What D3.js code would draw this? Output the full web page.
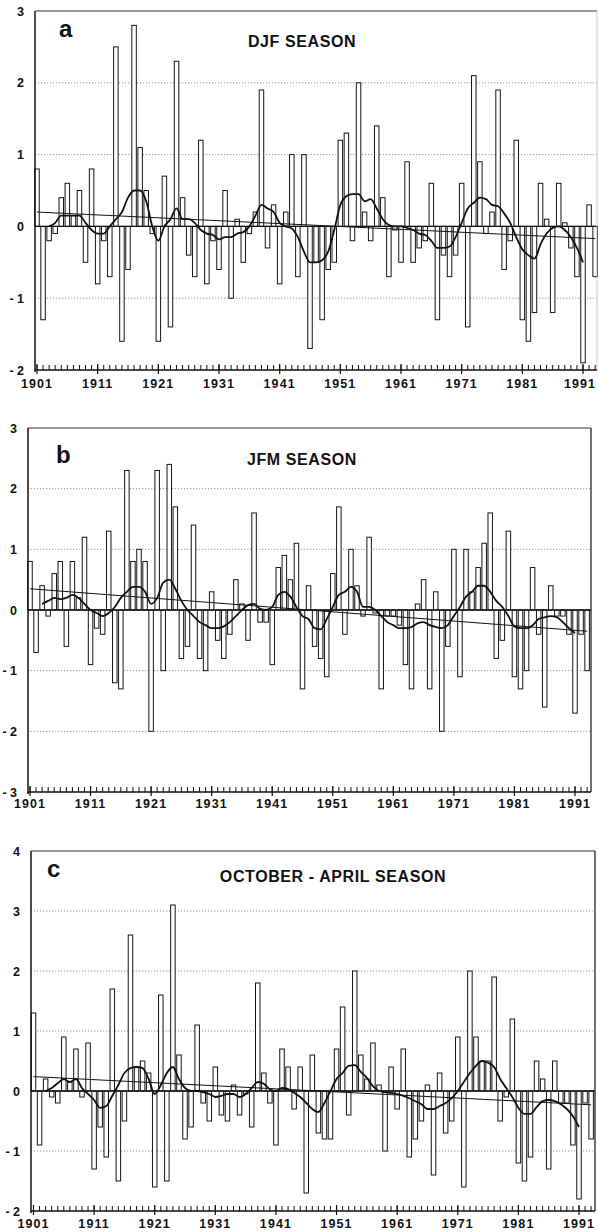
<!DOCTYPE html>
<html><head><meta charset="utf-8">
<script src="https://cdn.jsdelivr.net/npm/d3@7"></script>
<style>
body{margin:0;background:#fff}
svg{display:block}
text{font-family:"Liberation Sans",Arial,Helvetica,sans-serif;fill:#111}
</style>
</head><body>
<svg id="chart" width="598" height="1232"></svg>
<script>
// ---------- DATA ----------
const years = [1901,1902,1903,1904,1905,1906,1907,1908,1909,1910,1911,1912,1913,1914,1915,1916,1917,1918,1919,1920,
1921,1922,1923,1924,1925,1926,1927,1928,1929,1930,1931,1932,1933,1934,1935,1936,1937,1938,1939,1940,
1941,1942,1943,1944,1945,1946,1947,1948,1949,1950,1951,1952,1953,1954,1955,1956,1957,1958,1959,1960,
1961,1962,1963,1964,1965,1966,1967,1968,1969,1970,1971,1972,1973,1974,1975,1976,1977,1978,1979,1980,
1981,1982,1983,1984,1985,1986,1987,1988,1989,1990,1991,1992,1993];

const djfValues = [0.8,-1.3,-0.2,-0.1,0.4,0.6,0.15,0.5,-0.5,0.8,-0.8,-0.2,-0.7,2.5,-1.6,-0.6,2.8,1.1,0.5,-0.1,
-1.6,0.7,-1.4,2.3,0.4,-0.4,-0.7,1.2,-0.8,-0.2,-0.6,0.5,-1.0,0.1,-0.5,-0.1,0.2,1.9,-0.3,0.3,
-0.8,0.2,1.0,-0.7,1.0,-1.7,-0.5,-1.3,-0.6,-0.5,1.2,1.3,-0.2,2.0,0.2,-0.2,1.4,0.4,-0.7,-0.05,
-0.5,0.9,-0.5,-0.3,-0.2,0.6,-1.3,-0.4,-0.7,-0.4,0.6,-1.4,2.1,0.9,-0.1,0.2,1.9,-0.6,-0.2,1.2,
-1.3,-1.6,-1.2,0.6,0.1,-1.2,0.6,0.05,-0.3,-0.7,-1.9,0.3,-0.7];

const jfmValues = [0.8,-0.7,0.4,-0.1,0.6,0.8,-0.6,0.8,0.2,1.2,-0.9,-0.3,-0.4,1.3,-1.2,-1.3,2.3,0.8,1.0,0.8,
-2.0,2.3,-1.0,2.4,1.7,-0.8,-0.6,1.4,-0.8,-1.0,0.3,-0.5,-0.8,-0.4,0.5,0.1,-0.5,1.6,-0.2,-0.2,
-0.9,0.7,0.9,0.5,1.1,-1.3,0.4,-0.6,-0.8,-1.1,0.6,1.7,-0.4,1.0,0.4,-0.1,1.2,-0.05,-1.3,-0.1,
-0.1,-0.25,-0.9,-1.3,0.1,0.5,-1.3,0.3,-2.0,-0.6,1.0,-1.1,1.0,0.3,0.7,1.1,1.6,-0.8,-0.5,1.3,
-1.1,-1.3,-1.0,0.7,-0.4,-1.6,0.4,-0.1,-0.1,-0.4,-1.7,-0.4,-1.0];

const octAprValues = [1.3,-0.9,0.2,-0.1,-0.2,0.9,0.15,0.7,-0.1,0.8,-1.3,-0.6,-1.1,1.7,-1.5,-0.5,2.6,0.4,0.5,0.3,
-1.6,1.6,-1.5,3.1,0.6,-0.8,-0.6,1.1,-0.2,-0.5,0.4,-0.4,-0.5,0.1,-0.4,-0.05,-0.6,1.8,0.3,-0.2,
-0.9,0.7,0.4,-0.3,0.4,-1.7,0.6,-0.7,-0.8,-0.8,0.7,1.4,-0.4,2.0,0.6,0.2,0.8,0.1,-1.0,0.4,
-0.3,0.7,-1.1,-0.8,-0.5,0.1,-1.4,0.3,-0.7,-0.5,0.9,-1.6,2.0,0.9,0.5,0.5,1.9,-0.5,-0.1,1.2,
-1.2,-1.5,-1.1,0.5,0.2,-1.3,0.5,-0.2,-0.2,-0.9,-1.8,-0.2,-0.8];

const smoothYears = [1903,1904,1905,1906,1907,1908,1909,1910,1911,1912,1913,1914,1915,1916,1917,1918,1919,1920,
1921,1922,1923,1924,1925,1926,1927,1928,1929,1930,1931,1932,1933,1934,1935,1936,1937,1938,1939,1940,
1941,1942,1943,1944,1945,1946,1947,1948,1949,1950,1951,1952,1953,1954,1955,1956,1957,1958,1959,1960,
1961,1962,1963,1964,1965,1966,1967,1968,1969,1970,1971,1972,1973,1974,1975,1976,1977,1978,1979,1980,
1981,1982,1983,1984,1985,1986,1987,1988,1989,1990,1991];

const djfSmooth = [0.0,0.05,0.15,0.15,0.15,0.15,0.05,-0.05,-0.1,-0.1,0.0,0.1,0.2,0.4,0.5,0.5,0.35,0.0,
-0.2,0.0,0.1,0.25,0.1,0.1,0.05,-0.05,-0.1,-0.12,-0.18,-0.15,-0.15,-0.1,-0.08,0.0,0.15,0.3,0.25,0.2,
0.05,0.0,-0.03,-0.15,-0.35,-0.5,-0.5,-0.47,-0.35,-0.05,0.3,0.42,0.45,0.45,0.35,0.38,0.25,0.1,0.02,0.0,
0.0,-0.02,-0.05,-0.1,-0.12,-0.2,-0.3,-0.3,-0.28,-0.15,0.05,0.25,0.33,0.4,0.38,0.3,0.28,0.18,0.05,-0.15,
-0.32,-0.4,-0.45,-0.25,-0.1,-0.02,0.0,-0.05,-0.15,-0.3,-0.5];

const jfmSmooth = [0.1,0.15,0.2,0.18,0.2,0.25,0.2,0.1,0.0,-0.05,-0.1,-0.05,0.05,0.2,0.3,0.38,0.38,0.3,
0.1,0.2,0.45,0.5,0.35,0.15,0.0,-0.1,-0.2,-0.25,-0.3,-0.3,-0.27,-0.2,-0.1,0.0,0.08,0.1,0.02,0.0,
0.05,0.25,0.3,0.22,0.05,-0.1,-0.15,-0.3,-0.32,-0.15,0.05,0.25,0.3,0.38,0.3,0.05,0.05,0.0,-0.1,-0.2,
-0.25,-0.3,-0.3,-0.28,-0.22,-0.2,-0.25,-0.28,-0.3,-0.25,-0.1,0.05,0.22,0.3,0.4,0.4,0.3,0.15,0.05,-0.1,
-0.27,-0.3,-0.3,-0.25,-0.15,-0.12,-0.1,-0.12,-0.2,-0.3,-0.38];

const octAprSmooth = [0.0,0.05,0.13,0.2,0.15,0.2,0.05,-0.05,-0.15,-0.28,-0.25,-0.08,0.1,0.3,0.38,0.4,0.38,0.2,
-0.05,0.1,0.3,0.4,0.2,0.05,0.0,0.0,-0.02,-0.05,-0.1,-0.08,-0.05,-0.05,-0.1,-0.05,0.05,0.15,0.12,0.03,
0.0,0.05,0.03,-0.03,-0.1,-0.2,-0.3,-0.35,-0.2,0.0,0.2,0.3,0.42,0.43,0.32,0.22,0.08,0.0,-0.02,-0.03,
-0.05,-0.08,-0.12,-0.17,-0.22,-0.3,-0.3,-0.25,-0.2,-0.12,0.0,0.15,0.3,0.42,0.5,0.47,0.4,0.2,0.05,-0.1,
-0.28,-0.38,-0.38,-0.27,-0.17,-0.15,-0.17,-0.22,-0.3,-0.42,-0.6];

const trendYears = [1901, 1993];
const djfTrend = [0.2, -0.17];
const jfmTrend = [0.35, -0.35];
const octAprTrend = [0.24, -0.23];

const decadeLabels = [1901,1911,1921,1931,1941,1951,1961,1971,1981,1991];
const djfYTicks = [-2,-1,0,1,2,3];
const jfmYTicks = [-3,-2,-1,0,1,2,3];
const octAprYTicks = [-2,-1,0,1,2,3,4];
const panelLetters = ["a","b","c"];
const panelTitles = ["DJF SEASON","JFM SEASON","OCTOBER - APRIL SEASON"];

// ---------- LAYOUT ----------
const panels = [
  {letter:panelLetters[0], title:panelTitles[0], values:djfValues, smooth:djfSmooth, trend:djfTrend, yTicks:djfYTicks,
   l:35, r:597, t:11, b:370, x0:37, x1:583, titleX:302, titleY:47, letterX:59, letterY:37, labelY:388, rightBorder:false},
  {letter:panelLetters[1], title:panelTitles[1], values:jfmValues, smooth:jfmSmooth, trend:jfmTrend, yTicks:jfmYTicks,
   l:28, r:591, t:428, b:792, x0:30, x1:575, titleX:302, titleY:465, letterX:56, letterY:463, labelY:808, rightBorder:true},
  {letter:panelLetters[2], title:panelTitles[2], values:octAprValues, smooth:octAprSmooth, trend:octAprTrend, yTicks:octAprYTicks,
   l:31, r:595, t:851, b:1211, x0:33.5, x1:579, titleX:333, titleY:882, letterX:47, letterY:877, labelY:1228, rightBorder:true}
];

const svg = d3.select("#chart");
const W = 598;

panels.forEach(p => {
  const g = svg.append("g");
  const x = d3.scaleLinear().domain([1901, 1991]).range([p.x0, p.x1]);
  const y = d3.scaleLinear().domain([p.yTicks[0], p.yTicks[p.yTicks.length-1]]).range([p.b, p.t]);
  const bw = 4.5;

  // dotted grid lines
  g.selectAll(".grid").data(p.yTicks.filter(v => v !== 0 && v !== p.yTicks[0] && v !== p.yTicks[p.yTicks.length-1]))
    .enter().append("line")
    .attr("x1", p.l).attr("x2", p.r)
    .attr("y1", d => y(d)).attr("y2", d => y(d))
    .attr("stroke", "#777").attr("stroke-width", 0.8).attr("stroke-dasharray", "1.2,1.8");

  // bars
  g.selectAll(".bar").data(years.map((yr,i) => ({yr, v:p.values[i]})))
    .enter().append("rect")
    .attr("x", d => x(d.yr) - bw/2)
    .attr("y", d => y(Math.max(0, d.v)))
    .attr("width", bw)
    .attr("height", d => Math.abs(y(d.v) - y(0)))
    .attr("fill", "#fff").attr("stroke", "#151515").attr("stroke-width", 1);

  // zero line
  g.append("line").attr("x1", p.l).attr("x2", p.r).attr("y1", y(0)).attr("y2", y(0))
    .attr("stroke", "#111").attr("stroke-width", 1.4);

  // trend line
  g.append("path").datum(trendYears.map((yr,i) => [yr, p.trend[i]]))
    .attr("d", d3.line().x(d => x(d[0])).y(d => y(d[1])))
    .attr("fill", "none").attr("stroke", "#111").attr("stroke-width", 1);

  // smoothed curve
  g.append("path").datum(smoothYears.map((yr,i) => [yr, p.smooth[i]]))
    .attr("d", d3.line().curve(d3.curveMonotoneX).x(d => x(d[0])).y(d => y(d[1])))
    .attr("fill", "none").attr("stroke", "#111").attr("stroke-width", 1.8);

  // frame
  g.append("line").attr("x1", p.l).attr("x2", p.l).attr("y1", p.t).attr("y2", p.b+2).attr("stroke","#111").attr("stroke-width",1.5);
  g.append("line").attr("x1", p.l).attr("x2", p.r).attr("y1", p.t).attr("y2", p.t).attr("stroke","#333").attr("stroke-width",1.1);
  g.append("line").attr("x1", p.l).attr("x2", p.r).attr("y1", p.b).attr("y2", p.b).attr("stroke","#111").attr("stroke-width",1.4);
  g.append("line").attr("x1", p.r).attr("x2", p.r).attr("y1", p.t).attr("y2", p.b)
    .attr("stroke", p.rightBorder ? "#222" : "#bbb").attr("stroke-width", p.rightBorder ? 1.3 : 0.8);

  // year ticks
  g.selectAll(".mtick").data(years).enter().append("line")
    .attr("x1", d => x(d)).attr("x2", d => x(d))
    .attr("y1", p.b).attr("y2", p.b - 5)
    .attr("stroke", "#111").attr("stroke-width", 1);
  g.selectAll(".dtick").data(decadeLabels).enter().append("line")
    .attr("x1", d => x(d)).attr("x2", d => x(d))
    .attr("y1", p.b + 4).attr("y2", p.b - 6)
    .attr("stroke", "#111").attr("stroke-width", 1.2);

  // year labels (kept inside the page)
  g.selectAll(".xlab").data(decadeLabels).enter().append("text")
    .attr("x", d => Math.min(x(d), W - 18)).attr("y", p.labelY)
    .attr("text-anchor", "middle").attr("font-size", 12.5).attr("font-weight", "bold")
    .attr("letter-spacing", 1.1)
    .text(d => String(d));

  // y labels
  g.selectAll(".ylab").data(p.yTicks).enter().append("text")
    .attr("x", p.l - 11).attr("y", d => y(d)).attr("dy", "0.36em")
    .attr("text-anchor", "end").attr("font-size", 12.5).attr("font-weight", "bold")
    .text(d => d < 0 ? "- " + Math.abs(d) : String(d));

  // letter and title
  g.append("text").attr("x", p.letterX).attr("y", p.letterY)
    .attr("font-size", 24).attr("font-weight", "bold").text(p.letter);
  g.append("text").attr("x", p.titleX).attr("y", p.titleY).attr("text-anchor", "middle")
    .attr("font-size", 16).attr("font-weight", "bold").attr("letter-spacing", 0.6).text(p.title);
});
</script>
</body></html>
